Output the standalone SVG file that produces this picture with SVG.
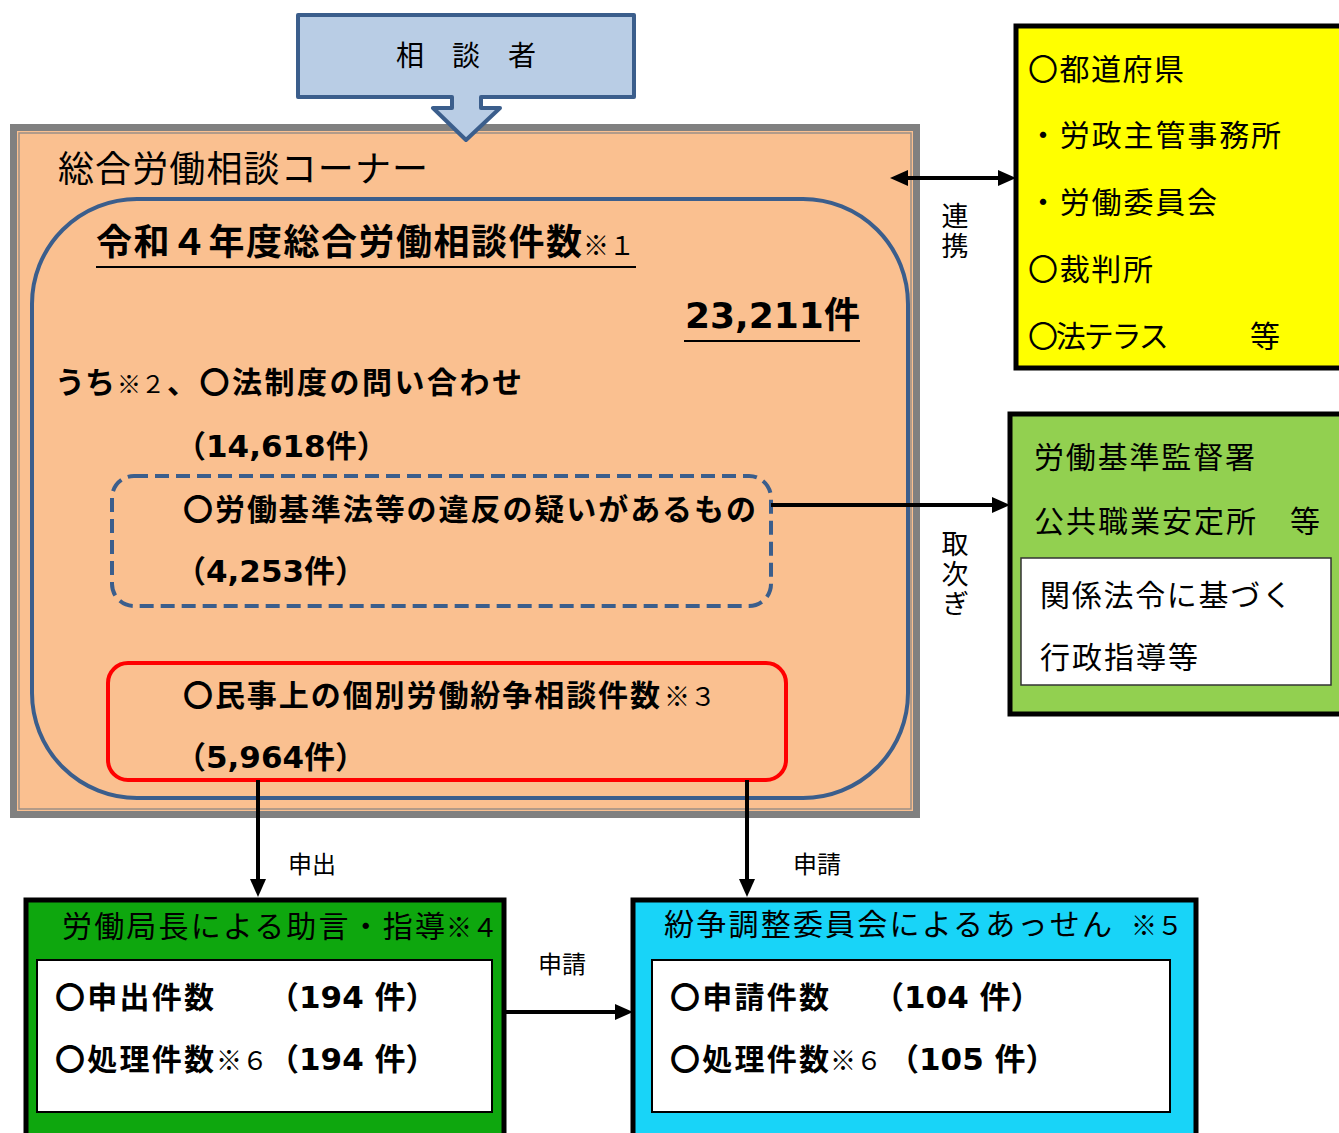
<svg xmlns="http://www.w3.org/2000/svg" width="1339" height="1133" viewBox="0 0 1339 1133">
<defs>
<style>
text{font-family:"Noto Sans CJK JP","Noto Sans",sans-serif;fill:#000}
.b{font-weight:700}
.n{font-weight:400}
.num{font-family:"DejaVu Sans","Noto Sans CJK JP",sans-serif;font-weight:700;font-size:31px}
.v{writing-mode:vertical-rl;font-size:27px;letter-spacing:3px}
.box{stroke:#000;stroke-width:5}
.conn{stroke:#000;stroke-width:4;fill:none}
</style>
<marker id="ah" markerUnits="userSpaceOnUse" markerWidth="18" markerHeight="16" refX="0" refY="8" orient="auto-start-reverse">
<path d="M0,0 L18,8 L0,16 Z" fill="#000"/>
</marker>
</defs>
<rect width="1339" height="1133" fill="#fff"/>

<g id="corner">
<rect x="13.5" y="127.5" width="903" height="687" fill="#fac090" stroke="#808080" stroke-width="7"/>
<rect x="19" y="133" width="892" height="676" fill="none" stroke="#9a8f86" stroke-width="1.5"/>
<text x="58" y="182" font-size="36" class="n" textLength="370">総合労働相談コーナー</text>
</g>

<g id="soudansha">
<path d="M298,15 H634 V97 H481 V108 H500 L466,140 L433,108 H452 V97 H298 Z" fill="#b9cde5" stroke="#3b5e8c" stroke-width="4" stroke-linejoin="round"/>
<text x="466" y="66" font-size="28" class="n" text-anchor="middle">相　談　者</text>
</g>

<g id="total">
<rect x="32" y="199" width="876" height="599" rx="105" ry="105" fill="none" stroke="#3b5e8c" stroke-width="4"/>
<text x="96" y="255" font-size="36" class="b" textLength="486">令和４年度総合労働相談件数</text>
<text x="583" y="255" font-size="26" class="n">※１</text>
<line x1="96" y1="267" x2="636" y2="267" stroke="#000" stroke-width="2"/>
<text x="685" y="328" class="num" style="font-size:36px">23,211件</text>
<line x1="684" y1="341" x2="860" y2="341" stroke="#000" stroke-width="2"/>
<text x="55" y="393" font-size="30" class="b" textLength="60">うち</text>
<text x="117" y="393" font-size="24" class="n">※２</text>
<text x="167" y="393" font-size="30" class="b" textLength="355">、〇法制度の問い合わせ</text>
<text x="175" y="457" class="num">（14,618件）</text>
</g>

<g id="violation">
<rect x="112" y="476" width="659" height="130" rx="22" ry="22" fill="none" stroke="#3b5e8c" stroke-width="4" stroke-dasharray="14 7"/>
<text x="183" y="520" font-size="30" class="b" textLength="573">〇労働基準法等の違反の疑いがあるもの</text>
<text x="175" y="582" class="num">（4,253件）</text>
</g>

<g id="civil">
<rect x="108" y="663" width="678" height="117" rx="20" ry="20" fill="none" stroke="#ff0000" stroke-width="4"/>
<text x="183" y="706" font-size="30" class="b" textLength="477">〇民事上の個別労働紛争相談件数</text>
<text x="664" y="706" font-size="26" class="n">※３</text>
<text x="175" y="768" class="num">（5,964件）</text>
</g>

<g id="partners">
<rect x="1016" y="26" width="326" height="342" fill="#ffff00" class="box" stroke-width="4"/>
<text x="1028" y="80" font-size="30" class="n" textLength="156">〇都道府県</text>
<text x="1028" y="146" font-size="30" class="n" textLength="253">・労政主管事務所</text>
<text x="1028" y="213" font-size="30" class="n" textLength="189">・労働委員会</text>
<text x="1028" y="280" font-size="30" class="n" textLength="125">〇裁判所</text>
<text x="1028" y="347" font-size="30" class="n" textLength="252">〇法テラス　　　等</text>
</g>

<g id="kantoku">
<rect x="1010" y="414" width="332" height="300" fill="#92d050" class="box"/>
<text x="1034" y="468" font-size="30" class="n" textLength="221">労働基準監督署</text>
<text x="1034" y="532" font-size="30" class="n" textLength="286">公共職業安定所　等</text>
<rect x="1021" y="558" width="310" height="127" fill="#fff" stroke="#333" stroke-width="1.5"/>
<text x="1040" y="606" font-size="30" class="n" textLength="252">関係法令に基づく</text>
<text x="1040" y="668" font-size="30" class="n" textLength="158">行政指導等</text>
</g>

<g id="jogen">
<rect x="26" y="900" width="478" height="245" fill="#0ea70e" class="box"/>
<text x="62" y="937" font-size="30" class="n" textLength="383">労働局長による助言・指導</text>
<text x="446" y="937" font-size="26" class="n">※４</text>
<rect x="37" y="960" width="455" height="152" fill="#fff" stroke="#000" stroke-width="2"/>
<text x="55" y="1008" font-size="30" class="b" textLength="159">〇申出件数</text>
<text x="268" y="1008" class="num">（194 件）</text>
<text x="55" y="1070" font-size="30" class="b" textLength="159">〇処理件数</text>
<text x="216" y="1070" font-size="26" class="n">※６</text>
<text x="268" y="1070" class="num">（194 件）</text>
</g>

<g id="assen">
<rect x="633" y="900" width="563" height="245" fill="#18d4f8" class="box"/>
<text x="664" y="935" font-size="30" class="n" textLength="448">紛争調整委員会によるあっせん</text>
<text x="1131" y="935" font-size="26" class="n">※５</text>
<rect x="652" y="960" width="518" height="152" fill="#fff" stroke="#000" stroke-width="2"/>
<text x="670" y="1008" font-size="30" class="b" textLength="159">〇申請件数</text>
<text x="873" y="1008" class="num">（104 件）</text>
<text x="670" y="1070" font-size="30" class="b" textLength="159">〇処理件数</text>
<text x="830" y="1070" font-size="26" class="n">※６</text>
<text x="888" y="1070" class="num">（105 件）</text>
</g>

<g id="connectors">
<line class="conn" x1="908" y1="178" x2="998" y2="178" marker-start="url(#ah)" marker-end="url(#ah)"/>
<line class="conn" x1="771" y1="505" x2="992" y2="505" stroke-width="5" marker-end="url(#ah)"/>
<line class="conn" x1="258" y1="780" x2="258" y2="879" marker-end="url(#ah)"/>
<line class="conn" x1="747" y1="780" x2="747" y2="879" marker-end="url(#ah)"/>
<line class="conn" x1="504" y1="1012" x2="615" y2="1012" marker-end="url(#ah)"/>
<text x="955" y="202" class="n v">連携</text>
<text x="955" y="530" class="n v">取次ぎ</text>
<text x="288" y="873" font-size="24" class="n">申出</text>
<text x="793" y="873" font-size="24" class="n">申請</text>
<text x="538" y="973" font-size="24" class="n">申請</text>
</g>
</svg>
